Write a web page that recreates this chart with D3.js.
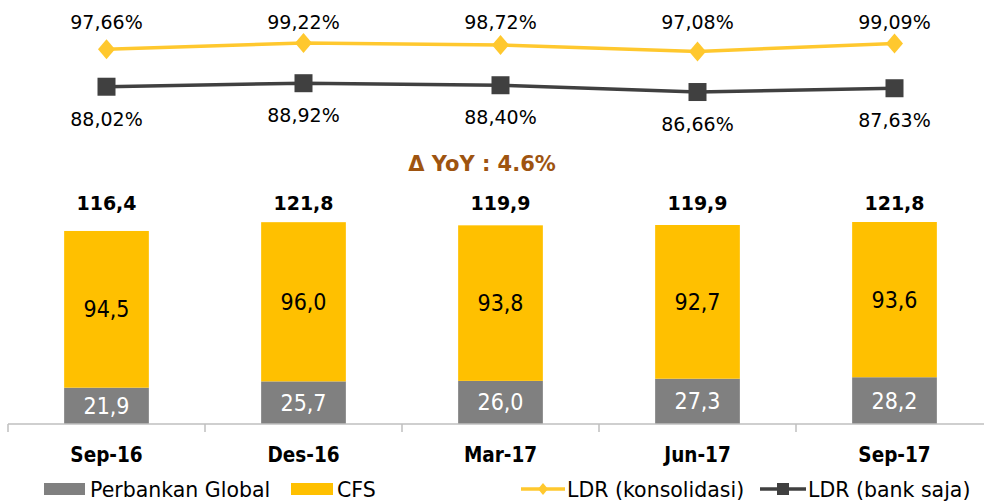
<!DOCTYPE html>
<html>
<head>
<meta charset="utf-8">
<script src="https://cdn.jsdelivr.net/npm/d3@7"></script>
<style>
  body { margin: 0; background: #fff; }
  text { font-family: 'DejaVu Sans', sans-serif; }
</style>
</head>
<body>
<script>
// Data
const categories = ['Sep-16', 'Des-16', 'Mar-17', 'Jun-17', 'Sep-17']
const globalValues = [21.9, 25.7, 26.0, 27.3, 28.2]
const cfsValues = [94.5, 96.0, 93.8, 92.7, 93.6]
const totalValues = [116.4, 121.8, 119.9, 119.9, 121.8]
const ldrKonsolidasi = [97.66, 99.22, 98.72, 97.08, 99.09]
const ldrBank = [88.02, 88.92, 88.40, 86.66, 87.63]
const deltaLabel = 'Δ YoY : 4.6%'

// Chart settings
const width = 984
const height = 504
const axisY = 424
const narrowFont = "'DejaVu Sans Condensed', 'DejaVu Sans', sans-serif"

// Colors
const yellowColor = '#ffc000'
const lineYellow = '#ffc82e'
const grayColor = '#808080'
const darkColor = '#404040'
const brownColor = '#9e5410'

const fmt = d => d.toFixed(1).replace('.', ',')
const fmtPct = d => d.toFixed(2).replace('.', ',') + '%'

// Create svg
const svg = d3.select('body')
  .append('svg')
  .attr('width', width)
  .attr('height', height)

// Scales
const xScale = d3.scaleBand()
  .domain(categories)
  .range([8, 993])
  .paddingInner(0.57)
  .paddingOuter(0.285)
const yBar = d3.scaleLinear()
  .domain([0, 120])
  .range([axisY, 225])
const yLine = d3.scaleLinear()
  .domain([80, 100])
  .range([118, 40])
const cx = d => xScale(d) + xScale.bandwidth() / 2

// Bars: Perbankan Global
svg.selectAll('rect.global')
  .data(categories)
  .enter()
  .append('rect')
  .attr('class', 'global')
  .attr('x', d => xScale(d))
  .attr('width', xScale.bandwidth())
  .attr('y', (d, i) => yBar(globalValues[i]))
  .attr('height', (d, i) => axisY - yBar(globalValues[i]))
  .attr('fill', grayColor)

// Bars: CFS
svg.selectAll('rect.cfs')
  .data(categories)
  .enter()
  .append('rect')
  .attr('class', 'cfs')
  .attr('x', d => xScale(d))
  .attr('width', xScale.bandwidth())
  .attr('y', (d, i) => yBar(globalValues[i] + cfsValues[i]))
  .attr('height', (d, i) => yBar(globalValues[i]) - yBar(globalValues[i] + cfsValues[i]))
  .attr('fill', yellowColor)

// Segment labels
svg.selectAll('text.global-label')
  .data(categories)
  .enter()
  .append('text')
  .attr('x', d => cx(d))
  .attr('y', (d, i) => (axisY + yBar(globalValues[i])) / 2 + 8)
  .text((d, i) => fmt(globalValues[i]))
  .style('font-family', narrowFont)
  .style('font-size', '23px')
  .style('fill', '#fff')
  .style('text-anchor', 'middle')
svg.selectAll('text.cfs-label')
  .data(categories)
  .enter()
  .append('text')
  .attr('x', d => cx(d))
  .attr('y', (d, i) => (yBar(globalValues[i]) + yBar(globalValues[i] + cfsValues[i])) / 2 + 8)
  .text((d, i) => fmt(cfsValues[i]))
  .style('font-family', narrowFont)
  .style('font-size', '23px')
  .style('fill', '#000')
  .style('text-anchor', 'middle')

// Totals
svg.selectAll('text.total')
  .data(categories)
  .enter()
  .append('text')
  .attr('x', d => cx(d))
  .attr('y', yBar(120) - 15)
  .text((d, i) => fmt(totalValues[i]))
  .style('font-size', '19px')
  .style('font-weight', 'bold')
  .style('text-anchor', 'middle')

// Delta label
svg.append('text')
  .attr('x', width / 2 - 10)
  .attr('y', 171)
  .text(deltaLabel)
  .style('font-size', '21px')
  .style('font-weight', 'bold')
  .style('fill', brownColor)
  .style('text-anchor', 'middle')

// X axis
const axis = svg.append('g')
  .attr('transform', `translate(0, ${axisY})`)
axis.append('line')
  .attr('x1', xScale.range()[0])
  .attr('x2', xScale.range()[1])
  .attr('stroke', '#bfbfbf')
  .attr('stroke-width', 1.5)
axis.selectAll('line.tick')
  .data(d3.range(categories.length + 1))
  .enter()
  .append('line')
  .attr('x1', i => xScale.range()[0] + i * xScale.step())
  .attr('x2', i => xScale.range()[0] + i * xScale.step())
  .attr('y2', 8)
  .attr('stroke', '#bfbfbf')
  .attr('stroke-width', 1.5)
axis.append('g')
  .call(d3.axisBottom(xScale).tickSize(0).tickPadding(23))
  .call(g => g.select('.domain').remove())
  .selectAll('text')
  .style('font-family', narrowFont)
  .style('font-size', '20.5px')
  .style('font-weight', 'bold')
  .style('fill', '#000')

// Lines
const line = values => d3.line()
  .x((d, i) => cx(categories[i]))
  .y(d => yLine(d))(values)

svg.append('path')
  .attr('d', line(ldrBank))
  .attr('fill', 'none')
  .attr('stroke', darkColor)
  .attr('stroke-width', 3.5)
svg.selectAll('rect.bank')
  .data(ldrBank)
  .enter()
  .append('rect')
  .attr('x', (d, i) => cx(categories[i]) - 9)
  .attr('y', d => yLine(d) - 9)
  .attr('width', 18)
  .attr('height', 18)
  .attr('fill', darkColor)

svg.append('path')
  .attr('d', line(ldrKonsolidasi))
  .attr('fill', 'none')
  .attr('stroke', lineYellow)
  .attr('stroke-width', 3.5)
svg.selectAll('path.diamond')
  .data(ldrKonsolidasi)
  .enter()
  .append('path')
  .attr('d', 'M0,-10L8.5,0L0,10L-8.5,0Z')
  .attr('transform', (d, i) => `translate(${cx(categories[i])}, ${yLine(d)})`)
  .attr('fill', lineYellow)

// Line labels
svg.selectAll('text.konsol')
  .data(ldrKonsolidasi)
  .enter()
  .append('text')
  .attr('x', (d, i) => cx(categories[i]))
  .attr('y', 29)
  .text(d => fmtPct(d))
  .style('font-size', '19px')
  .style('text-anchor', 'middle')
svg.selectAll('text.bank')
  .data(ldrBank)
  .enter()
  .append('text')
  .attr('x', (d, i) => cx(categories[i]))
  .attr('y', d => yLine(d) + 39)
  .text(d => fmtPct(d))
  .style('font-size', '19px')
  .style('text-anchor', 'middle')

// Legend
const legend = svg.append('g')
  .attr('id', 'legend')
  .style('font-size', '20.5px')

legend.append('rect')
  .attr('x', 44).attr('y', 483)
  .attr('width', 41).attr('height', 12)
  .attr('fill', grayColor)
legend.append('text')
  .attr('x', 90).attr('y', 497)
  .text('Perbankan Global')
legend.append('rect')
  .attr('x', 291).attr('y', 483)
  .attr('width', 42).attr('height', 12)
  .attr('fill', yellowColor)
legend.append('text')
  .attr('x', 337).attr('y', 497)
  .text('CFS')

legend.append('line')
  .attr('x1', 521).attr('x2', 565)
  .attr('y1', 489).attr('y2', 489)
  .attr('stroke', lineYellow)
  .attr('stroke-width', 3.5)
legend.append('path')
  .attr('d', 'M0,-6L5,0L0,6L-5,0Z')
  .attr('transform', 'translate(543, 489)')
  .attr('fill', lineYellow)
legend.append('text')
  .attr('x', 567).attr('y', 497)
  .text('LDR (konsolidasi)')

legend.append('line')
  .attr('x1', 760).attr('x2', 806)
  .attr('y1', 489).attr('y2', 489)
  .attr('stroke', darkColor)
  .attr('stroke-width', 3.5)
legend.append('rect')
  .attr('x', 777).attr('y', 483)
  .attr('width', 12).attr('height', 12)
  .attr('fill', darkColor)
legend.append('text')
  .attr('x', 808).attr('y', 497)
  .text('LDR (bank saja)')
</script>
</body>
</html>
